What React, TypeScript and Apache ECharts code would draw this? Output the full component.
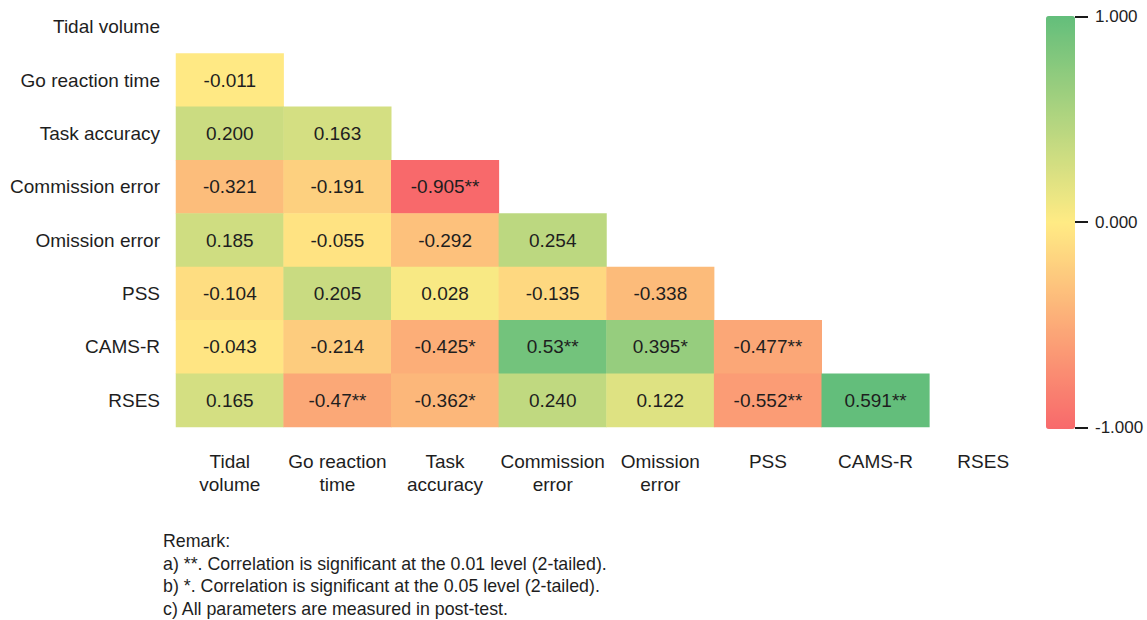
import React, { useEffect, useRef } from "react";
import * as echarts from "echarts";

// ---- Data ----
const rowNames = [
  "Tidal volume",
  "Go reaction time",
  "Task accuracy",
  "Commission error",
  "Omission error",
  "PSS",
  "CAMS-R",
  "RSES",
];
const colNames = [
  "Tidal\nvolume",
  "Go reaction\ntime",
  "Task\naccuracy",
  "Commission\nerror",
  "Omission\nerror",
  "PSS",
  "CAMS-R",
  "RSES",
];

const goReactionTime = [-0.011];
const taskAccuracy = [0.2, 0.163];
const commissionError = [-0.321, -0.191, -0.905];
const omissionError = [0.185, -0.055, -0.292, 0.254];
const pss = [-0.104, 0.205, 0.028, -0.135, -0.338];
const camsR = [-0.043, -0.214, -0.425, 0.53, 0.395, -0.477];
const rses = [0.165, -0.47, -0.362, 0.24, 0.122, -0.552, 0.591];

const goReactionTimeText = ["-0.011"];
const taskAccuracyText = ["0.200", "0.163"];
const commissionErrorText = ["-0.321", "-0.191", "-0.905**"];
const omissionErrorText = ["0.185", "-0.055", "-0.292", "0.254"];
const pssText = ["-0.104", "0.205", "0.028", "-0.135", "-0.338"];
const camsRText = ["-0.043", "-0.214", "-0.425*", "0.53**", "0.395*", "-0.477**"];
const rsesText = ["0.165", "-0.47**", "-0.362*", "0.240", "0.122", "-0.552**", "0.591**"];

const colorbarTicks = [-1, 0, 1];

const remarkLines = [
  "Remark:",
  "a) **. Correlation is significant at the 0.01 level (2-tailed).",
  "b) *. Correlation is significant at the 0.05 level (2-tailed).",
  "c) All parameters are measured in post-test.",
];

const rowValues = [[], goReactionTime, taskAccuracy, commissionError, omissionError, pss, camsR, rses];
const rowTexts = [[], goReactionTimeText, taskAccuracyText, commissionErrorText, omissionErrorText, pssText, camsRText, rsesText];

const FONT = "'Liberation Sans', Arial, sans-serif";
const TXT = "#1e1e1e";
const RED = [248, 105, 107];
const YEL = [255, 235, 132];
const GRN = [99, 190, 123];

function lerp(a: number[], b: number[], t: number) {
  const c = a.map((v, i) => Math.round(v + (b[i] - v) * t));
  return `rgb(${c[0]},${c[1]},${c[2]})`;
}

export default function App() {
  const ref = useRef<HTMLDivElement>(null);
  useEffect(() => {
    document.body.style.margin = "0";
    if (!ref.current) return;
    const chart = echarts.init(ref.current, null, { renderer: "svg" });

    const data: any[] = [];
    const all: number[] = [];
    rowValues.forEach((vals, r) => {
      vals.forEach((v, c) => {
        data.push({ value: [c, r, v], label: { formatter: rowTexts[r][c] } });
        all.push(v);
      });
    });
    const vMin = Math.min(...all);
    const vMax = Math.max(...all);
    const N = 81;
    const stops: string[] = [];
    for (let k = 0; k < N; k++) {
      const v = vMin + ((vMax - vMin) * k) / (N - 1);
      stops.push(v < 0 ? lerp(YEL, RED, v / vMin) : lerp(YEL, GRN, v / vMax));
    }

    chart.setOption({
      animation: false,
      textStyle: { fontFamily: FONT },
      grid: [
        { left: 176, top: -1.5, width: 861, height: 428.5 },
        { left: 1075, top: 16.5, width: 13, height: 411.2 },
      ],
      xAxis: [
        {
          type: "category",
          data: colNames,
          gridIndex: 0,
          axisLine: { show: false },
          axisTick: { show: false },
          splitLine: { show: false },
          axisLabel: { color: TXT, fontSize: 19, lineHeight: 23, margin: 23, fontFamily: FONT, interval: 0 },
        },
        { type: "value", gridIndex: 1, show: false, min: 0, max: 1 },
      ],
      yAxis: [
        {
          type: "category",
          data: rowNames,
          inverse: true,
          gridIndex: 0,
          axisLine: { show: false },
          axisTick: { show: false },
          splitLine: { show: false },
          axisLabel: { color: TXT, fontSize: 19, margin: 16, fontFamily: FONT },
        },
        {
          type: "value",
          gridIndex: 1,
          position: "right",
          min: -1,
          max: 1,
          interval: 1,
          axisLine: { show: false },
          axisTick: { show: false },
          splitLine: { show: true, lineStyle: { color: "#1a1a1a", width: 2 } },
          axisLabel: {
            color: TXT,
            fontSize: 17,
            margin: 7,
            fontFamily: FONT,
            formatter: (v: number) => (colorbarTicks.includes(v) ? v.toFixed(3) : ""),
          },
        },
      ],
      visualMap: [
        {
          type: "continuous",
          show: false,
          seriesIndex: 0,
          dimension: 2,
          min: vMin,
          max: vMax,
          inRange: { color: stops },
        },
        {
          type: "continuous",
          show: true,
          seriesIndex: 1,
          min: -1,
          max: 1,
          calculable: false,
          hoverLink: false,
          orient: "vertical",
          left: 1046,
          top: 16,
          padding: 0,
          itemWidth: 29,
          itemHeight: 413,
          text: null,
          inRange: { color: [lerp(RED, RED, 0), lerp(YEL, YEL, 0), lerp(GRN, GRN, 0)] },
        },
      ],
      series: [
        {
          type: "heatmap",
          xAxisIndex: 0,
          yAxisIndex: 0,
          data,
          label: { show: true, color: TXT, fontSize: 19, fontFamily: FONT },
          itemStyle: { borderWidth: 0 },
          emphasis: { disabled: true },
        },
        { type: "scatter", xAxisIndex: 1, yAxisIndex: 1, data: [] },
      ],
      graphic: remarkLines.map((t, i) => ({
        type: "text",
        left: 163,
        top: 532 + i * 22.7,
        style: { text: t, fill: TXT, fontSize: 17.8, fontFamily: FONT },
      })),
    });
    return () => chart.dispose();
  }, []);
  return <div ref={ref} style={{ width: 1147, height: 620 }} />;
}
